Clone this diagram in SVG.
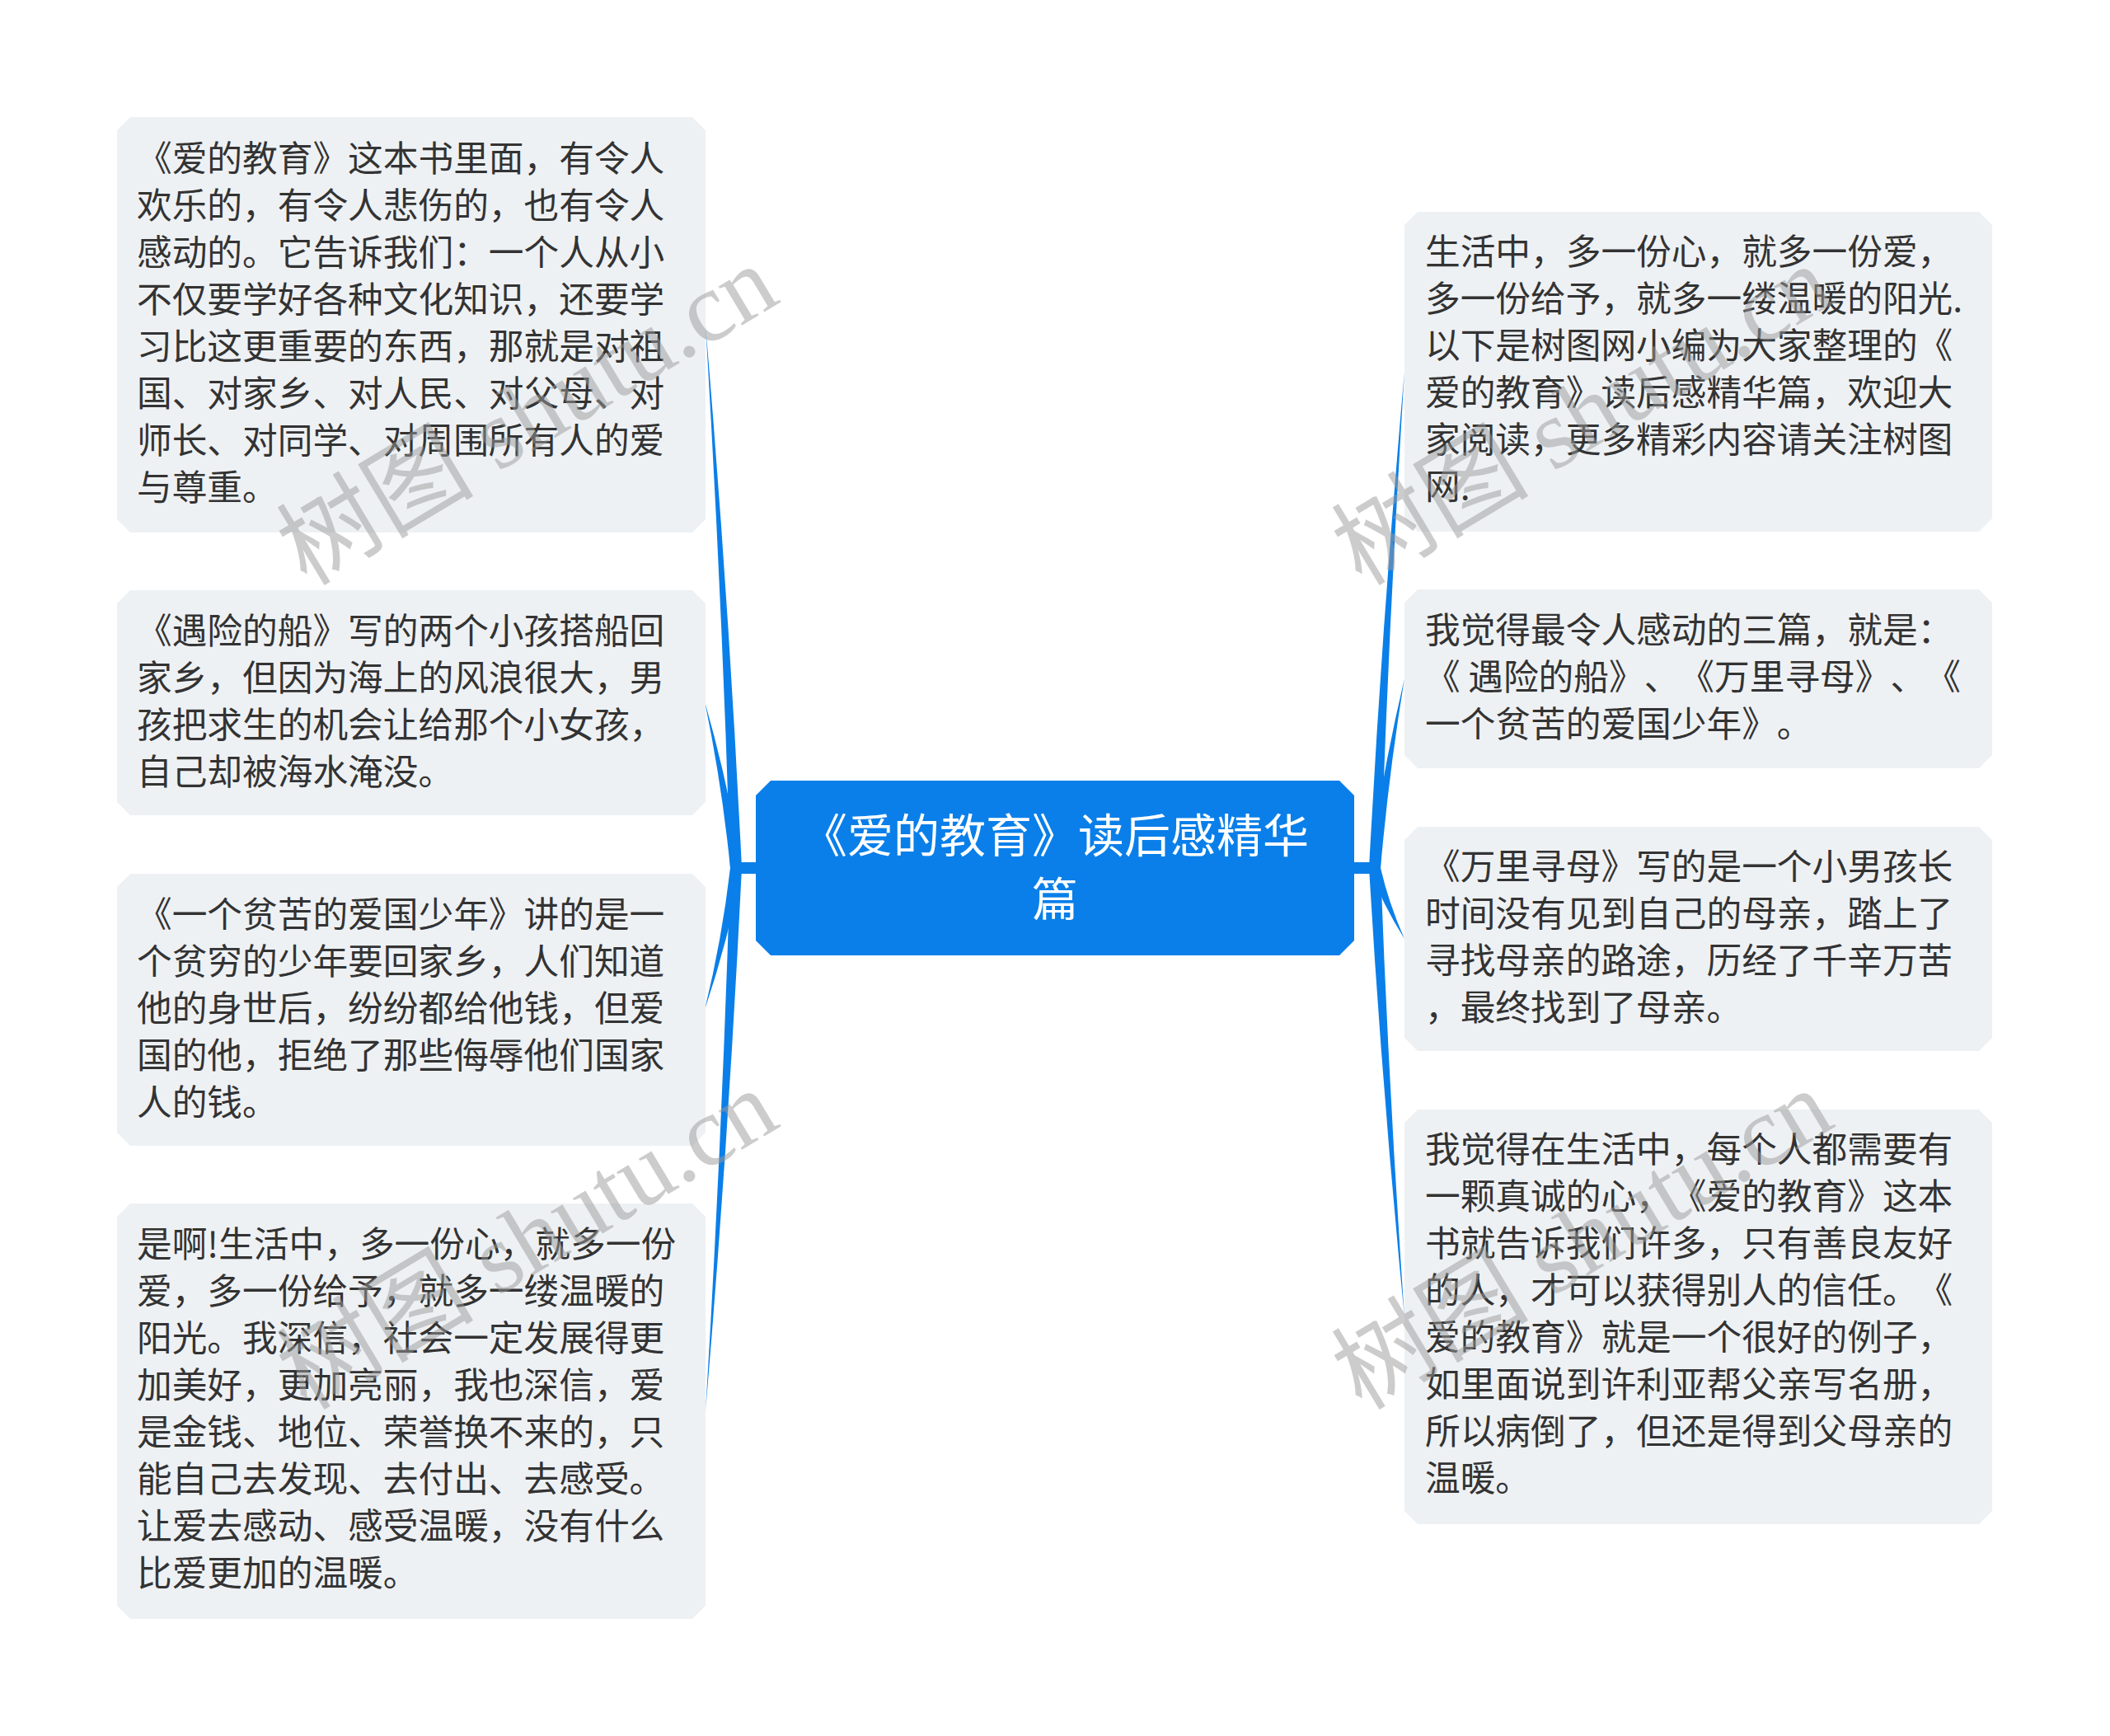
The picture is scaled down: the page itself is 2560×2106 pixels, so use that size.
<svg xmlns="http://www.w3.org/2000/svg" width="2560" height="2106" viewBox="0 0 2560 2106">
<style>
.bg{fill:#ffffff}
.node{fill:#eef1f4}
.center{fill:#0a7fe9}
.conn{fill:#0a7fe9}
.t{font-family:"Noto Sans CJK SC","Liberation Sans",sans-serif;font-size:42.7px;fill:#333333;text-spacing-trim:space-all;font-feature-settings:"chws" 0,"halt" 0,"palt" 0}
.ct{font-family:"Noto Sans CJK SC","Liberation Sans",sans-serif;font-size:56px;fill:#ffffff;text-anchor:middle;text-spacing-trim:space-all}
.wm{font-family:"Liberation Serif","Noto Sans CJK SC",serif;font-size:120px;fill:#9a9a9a;opacity:0.5}
</style>
<rect class="bg" x="0" y="0" width="2560" height="2106"/>
<g id="connectors">
<rect class="conn" x="893" y="1046" width="26" height="14"/>
<path class="conn" d="M886,1053 Q876,724 856,395 Q884,724 900,1053 Z"/>
<path class="conn" d="M886,1053 Q876,952 855,851 Q884,952 900,1053 Z"/>
<path class="conn" d="M886,1053 Q876,1139 855,1225 Q884,1139 900,1053 Z"/>
<path class="conn" d="M886,1053 Q876,1382 856,1712 Q884,1382 900,1053 Z"/>
<rect class="conn" x="1641" y="1046" width="27" height="14"/>
<path class="conn" d="M1661,1053 Q1677,752 1704,451 Q1685,752 1675,1053 Z"/>
<path class="conn" d="M1661,1053 Q1677,938 1704,823 Q1685,938 1675,1053 Z"/>
<path class="conn" d="M1661,1053 Q1677,1096 1704,1139 Q1685,1096 1675,1053 Z"/>
<path class="conn" d="M1661,1053 Q1677,1325 1704,1597 Q1685,1325 1675,1053 Z"/>
</g>
<g id="center">
<path class="center" d="M935,947 H1625 L1643,965 V1141 L1625,1159 H935 L917,1141 V965 Z"/>
<text class="ct" x="1280" y="1034">《爱的教育》读后感精华</text>
<text class="ct" x="1280" y="1111">篇</text>
</g>
<g id="node-l1">
<path class="node" d="M158,142 H840 L856,158 V630 L840,646 H158 L142,630 V158 Z"/>
<text class="t" x="166" y="208">《爱的教育》这本书里面，有令人</text>
<text class="t" x="166" y="265">欢乐的，有令人悲伤的，也有令人</text>
<text class="t" x="166" y="322">感动的。它告诉我们：一个人从小</text>
<text class="t" x="166" y="379">不仅要学好各种文化知识，还要学</text>
<text class="t" x="166" y="436">习比这更重要的东西，那就是对祖</text>
<text class="t" x="166" y="493">国、对家乡、对人民、对父母、对</text>
<text class="t" x="166" y="550">师长、对同学、对周围所有人的爱</text>
<text class="t" x="166" y="607">与尊重。</text>
</g>
<g id="node-l2">
<path class="node" d="M158,716 H840 L856,732 V973 L840,989 H158 L142,973 V732 Z"/>
<text class="t" x="166" y="781">《遇险的船》写的两个小孩搭船回</text>
<text class="t" x="166" y="838">家乡，但因为海上的风浪很大，男</text>
<text class="t" x="166" y="895">孩把求生的机会让给那个小女孩，</text>
<text class="t" x="166" y="952">自己却被海水淹没。</text>
</g>
<g id="node-l3">
<path class="node" d="M158,1060 H840 L856,1076 V1374 L840,1390 H158 L142,1374 V1076 Z"/>
<text class="t" x="166" y="1125">《一个贫苦的爱国少年》讲的是一</text>
<text class="t" x="166" y="1182">个贫穷的少年要回家乡，人们知道</text>
<text class="t" x="166" y="1239">他的身世后，纷纷都给他钱，但爱</text>
<text class="t" x="166" y="1296">国的他，拒绝了那些侮辱他们国家</text>
<text class="t" x="166" y="1353">人的钱。</text>
</g>
<g id="node-l4">
<path class="node" d="M158,1460 H840 L856,1476 V1948 L840,1964 H158 L142,1948 V1476 Z"/>
<text class="t" x="166" y="1525">是啊!生活中，多一份心，就多一份</text>
<text class="t" x="166" y="1582">爱，多一份给予，就多一缕温暖的</text>
<text class="t" x="166" y="1639">阳光。我深信，社会一定发展得更</text>
<text class="t" x="166" y="1696">加美好，更加亮丽，我也深信，爱</text>
<text class="t" x="166" y="1753">是金钱、地位、荣誉换不来的，只</text>
<text class="t" x="166" y="1810">能自己去发现、去付出、去感受。</text>
<text class="t" x="166" y="1867">让爱去感动、感受温暖，没有什么</text>
<text class="t" x="166" y="1924">比爱更加的温暖。</text>
</g>
<g id="node-r1">
<path class="node" d="M1720,257 H2401 L2417,273 V629 L2401,645 H1720 L1704,629 V273 Z"/>
<text class="t" x="1729" y="321">生活中，多一份心，就多一份爱，</text>
<text class="t" x="1729" y="378">多一份给予，就多一缕温暖的阳光.</text>
<text class="t" x="1729" y="435">以下是树图网小编为大家整理的《</text>
<text class="t" x="1729" y="492">爱的教育》读后感精华篇，欢迎大</text>
<text class="t" x="1729" y="549">家阅读，更多精彩内容请关注树图</text>
<text class="t" x="1729" y="606">网.</text>
</g>
<g id="node-r2">
<path class="node" d="M1720,715 H2401 L2417,731 V916 L2401,932 H1720 L1704,916 V731 Z"/>
<text class="t" x="1729" y="780">我觉得最令人感动的三篇，就是：</text>
<text class="t" x="1729" y="837">《 遇险的船》、《万里寻母》、《</text>
<text class="t" x="1729" y="894">一个贫苦的爱国少年》。</text>
</g>
<g id="node-r3">
<path class="node" d="M1720,1003 H2401 L2417,1019 V1259 L2401,1275 H1720 L1704,1259 V1019 Z"/>
<text class="t" x="1729" y="1067">《万里寻母》写的是一个小男孩长</text>
<text class="t" x="1729" y="1124">时间没有见到自己的母亲，踏上了</text>
<text class="t" x="1729" y="1181">寻找母亲的路途，历经了千辛万苦</text>
<text class="t" x="1729" y="1238">，最终找到了母亲。</text>
</g>
<g id="node-r4">
<path class="node" d="M1720,1346 H2401 L2417,1362 V1833 L2401,1849 H1720 L1704,1833 V1362 Z"/>
<text class="t" x="1729" y="1410">我觉得在生活中，每个人都需要有</text>
<text class="t" x="1729" y="1467">一颗真诚的心，《爱的教育》这本</text>
<text class="t" x="1729" y="1524">书就告诉我们许多，只有善良友好</text>
<text class="t" x="1729" y="1581">的人，才可以获得别人的信任。《</text>
<text class="t" x="1729" y="1638">爱的教育》就是一个很好的例子，</text>
<text class="t" x="1729" y="1695">如里面说到许利亚帮父亲写名册，</text>
<text class="t" x="1729" y="1752">所以病倒了，但还是得到父母亲的</text>
<text class="t" x="1729" y="1809">温暖。</text>
</g>
<g id="watermarks">
<text class="wm" x="372" y="712" transform="rotate(-31 372 712)">树图 shutu.cn</text>
<text class="wm" x="372" y="1712" transform="rotate(-31 372 1712)">树图 shutu.cn</text>
<text class="wm" x="1652" y="712" transform="rotate(-31 1652 712)">树图 shutu.cn</text>
<text class="wm" x="1652" y="1712" transform="rotate(-31 1652 1712)">树图 shutu.cn</text>
</g>
</svg>
